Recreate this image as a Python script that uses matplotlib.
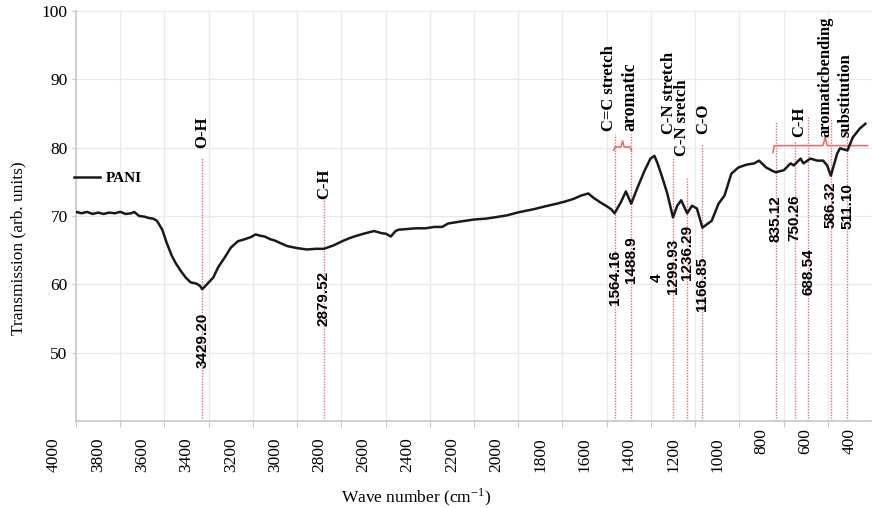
import matplotlib
matplotlib.use('Agg')
import matplotlib.pyplot as plt
import matplotlib.transforms as mtrans

''' FTIR spectrum of PANI with peak assignments '''

plt.rcParams['font.family'] = 'Liberation Serif'
plt.rcParams['mathtext.fontset'] = 'stix'

# spectrum
wn = [4000, 3975, 3950, 3925, 3900, 3875, 3850, 3825, 3800, 3775, 3750, 3737, 3714, 3690,
      3670, 3650, 3634, 3610, 3589, 3567, 3549, 3527, 3504, 3482, 3455, 3440, 3429, 3411,
      3379, 3357, 3326, 3299, 3268, 3237, 3210, 3188, 3165, 3147, 3121, 3100, 3080, 3045,
      3000, 2955, 2915, 2879, 2835, 2790, 2760, 2732, 2700, 2652, 2620, 2598, 2576, 2555,
      2540, 2500, 2464, 2420, 2380, 2344, 2317, 2260, 2196, 2150, 2107, 2050, 2004, 1960,
      1929, 1880, 1826, 1790, 1750, 1715, 1683, 1661, 1629, 1603, 1580, 1564, 1536, 1513,
      1489, 1460, 1429, 1402, 1384, 1371, 1348, 1326, 1300, 1281, 1263, 1236, 1214, 1192,
      1167, 1125, 1094, 1067, 1036, 1004, 969, 933, 911, 879, 850, 835, 799, 768, 754, 723,
      710, 679, 647, 621, 603, 586, 558, 545, 511, 487, 455, 430]
trans = [70.6, 70.4, 70.6, 70.3, 70.5, 70.3, 70.5, 70.4, 70.6, 70.3, 70.4, 70.6, 70.0, 69.9,
         69.7, 69.6, 69.3, 68.0, 66.0, 64.2, 63.1, 62.0, 61.0, 60.3, 60.1, 59.8, 59.3, 59.9,
         61.0, 62.5, 64.0, 65.4, 66.3, 66.6, 66.9, 67.3, 67.1, 67.0, 66.6, 66.4, 66.1, 65.6,
         65.3, 65.1, 65.2, 65.2, 65.7, 66.4, 66.8, 67.1, 67.4, 67.8, 67.5, 67.4, 67.0, 67.8,
         68.0, 68.1, 68.2, 68.2, 68.4, 68.4, 68.9, 69.2, 69.5, 69.6, 69.8, 70.1, 70.5, 70.8,
         71.0, 71.4, 71.8, 72.1, 72.5, 73.0, 73.3, 72.7, 72.0, 71.5, 71.0, 70.4, 72.0, 73.6,
         71.8, 74.2, 76.6, 78.4, 78.8, 77.8, 75.6, 73.3, 69.8, 71.5, 72.3, 70.4, 71.5, 71.1,
         68.3, 69.3, 71.8, 73.0, 76.2, 77.1, 77.5, 77.7, 78.1, 77.1, 76.6, 76.4, 76.7, 77.7,
         77.4, 78.4, 77.7, 78.4, 78.1, 78.1, 77.4, 75.9, 79.1, 79.9, 79.6, 81.5, 82.8, 83.5]

# marked peaks: position, label, top of dotted line, centre of the number
peak_wn = [3429.20, 2879.52, 1564.16, 1488.9, 1299.93, 1236.29, 1166.85,
           835.12, 750.26, 688.54, 586.32, 511.10]
peak_txt = ['3429.20', '2879.52', '1564.16', '1488.9', '1299.93', '1236.29', '1166.85',
            '835.12', '750.26', '688.54', '586.32', '511.10']
line_top = [78.7, 72.7, 82.0, 82.0, 78.5, 75.5, 80.5, 83.9, 81.0, 84.7, 84.4, 82.0]
num_y = [51.8, 58.0, 61.0, 63.6, 62.6, 64.7, 60.1, 69.6, 69.8, 61.8, 71.7, 71.5]

# band assignments: x, bottom of text, text, size
band_x = [3429.2, 2879.52, 1589, 1496, 1317, 1259, 1161, 728, 612, 518]
band_y = [80.0, 72.5, 82.5, 82.5, 82.0, 78.8, 82.0, 81.5, 81.5, 81.5]
band_txt = ['O-H', 'C-H', 'C=C stretch', 'aromatic', 'C-N stretch', 'C-N sretch', 'C-O',
            'C-H', 'aromaticbending', 'substitution']
band_size = [12, 12, 12, 13, 12, 12, 12, 12, 12, 12]

xticks = [4000, 3800, 3600, 3400, 3200, 3000, 2800, 2600, 2400, 2200, 2000,
          1800, 1600, 1400, 1200, 1000, 800, 600, 400]
yticks = [50, 60, 70, 80, 90, 100]

red = '#de7272'

fig = plt.figure(figsize=(8.72, 5.08), dpi=100)
ax = fig.add_axes([76/872, 87/508, 1 - 76/872, 410/508])

ax.plot(wn, trans, color='#1a1a1a', lw=1.8, label='PANI', zorder=3)

ax.set_xlim(4000, 446)
ax.set_ylim(40, 100)
ax.set_xticks(xticks)
ax.set_yticks(yticks)
ax.grid(True, color='#e9e9e9', lw=0.9)
ax.set_axisbelow(True)
for s in ['top', 'right']:
    ax.spines[s].set_visible(False)
for s in ['left', 'bottom']:
    ax.spines[s].set_color('#c8c8c8')
    ax.spines[s].set_linewidth(1.2)
ax.tick_params(axis='x', length=4, color='#c8c8c8', labelbottom=False)
ax.tick_params(axis='y', length=3, color='#c8c8c8', pad=3, labelsize=12.5)

# x tick labels sit half a step to the left of their ticks
tb = mtrans.blended_transform_factory(ax.transData, ax.transAxes)
for t in xticks:
    lab = str(t)
    yy = -16/410 if len(lab) == 4 else -7/410
    ax.text(t + 100, yy, lab, transform=tb, rotation=90, ha='center', va='top',
            fontsize=12.5)

# dotted peak lines and numbers
for x, top, ny, txt in zip(peak_wn, line_top, num_y, peak_txt):
    ax.plot([x, x], [40, top], color=red, lw=1.0, ls=(0, (1, 1)), zorder=2)
    ax.text(x, ny, txt, rotation=90, ha='center', va='center', fontsize=11,
            family='Liberation Sans', fontweight='bold', zorder=4)
ax.text(1375, 60.9, '4', rotation=90, ha='center', va='center', fontsize=11,
        family='Liberation Sans', fontweight='bold')

for x, y, txt, fs in zip(band_x, band_y, band_txt, band_size):
    ax.text(x, y, txt, rotation=90, ha='center', va='bottom', fontsize=fs,
            fontweight='bold', clip_on=False)

# braces
ax.plot([1568, 1562, 1535, 1528, 1521, 1494, 1488],
        [79.6, 80.1, 80.1, 81.0, 80.1, 80.1, 79.6], color=red, lw=1.2)
ax.plot([848, 842, 622, 612, 602, 420],
        [79.3, 80.3, 80.3, 81.5, 80.3, 80.3], color=red, lw=1.2)

leg = ax.legend(loc='center left', bbox_to_anchor=(74/872, 1 - 178/508),
                bbox_transform=fig.transFigure, frameon=False, borderpad=0,
                borderaxespad=0, handlelength=1.7, handletextpad=0.4,
                prop={'family': 'Liberation Serif', 'weight': 'bold', 'size': 11})

fig.text(18/872, 1 - 248/508, 'Transmission (arb. units)', rotation=90,
         ha='center', va='center', fontsize=12.5)
fig.text(416/872, 1 - 497/508, r'Wave number (cm$^{\mathregular{-1}}$)',
         ha='center', va='center', fontsize=12.5)

fig.savefig('out.png', dpi=100)
